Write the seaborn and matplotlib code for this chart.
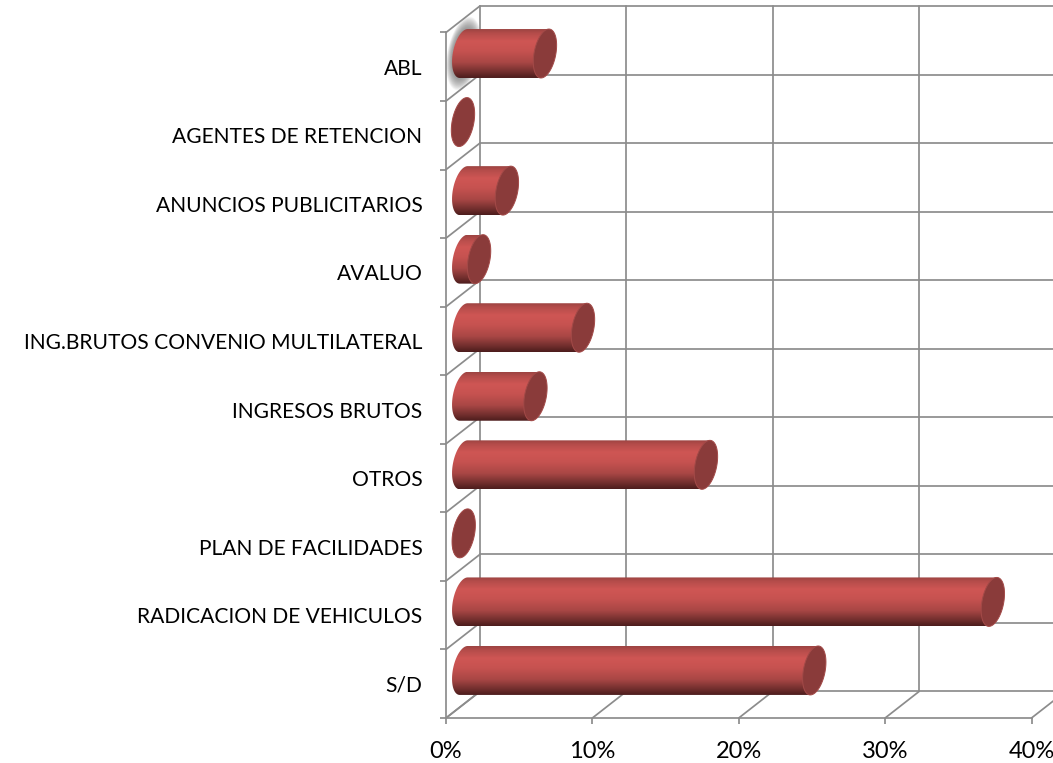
import numpy as np
import pandas as pd
import matplotlib.pyplot as plt
from matplotlib.colors import LinearSegmentedColormap
from matplotlib.patches import Polygon
import seaborn as sns

# Values
categories = ['ABL', 'AGENTES DE RETENCION', 'ANUNCIOS PUBLICITARIOS', 'AVALUO',
              'ING.BRUTOS CONVENIO MULTILATERAL', 'INGRESOS BRUTOS', 'OTROS',
              'PLAN DE FACILIDADES', 'RADICACION DE VEHICULOS', 'S/D']
values = [5.6, 0.0, 3.0, 1.1, 8.2, 4.95, 16.6, 0.05, 36.2, 24.0]
x_ticks = [0, 10, 20, 30, 40]

df = pd.DataFrame({'category': categories, 'value': values})

sns.set_style('white')
plt.rcParams['font.family'] = ['Lato', 'DejaVu Sans']

fig = plt.figure(figsize=(10.53, 7.63), dpi=100)
ax = fig.add_axes([446 / 1053, 45 / 763, 585.5 / 1053, 685.5 / 763])

sns.barplot(x='value', y='category', data=df, orient='h', width=0.715, color='#c0504d', ax=ax)

ax.set_xlim(0, 40)
ax.set_ylim(9.5, -0.5)

# 3D look: depth of the box in data units
depth_x = 2.32
depth_y = 0.387
grid_color = '#8c8c8c'
grid_lw = 1.25
edges = np.arange(-0.5, 10, 1)

# back wall, side wall and floor
for e in edges:
    ax.plot([depth_x, 45], [e - depth_y, e - depth_y], color=grid_color, lw=grid_lw, clip_on=False, zorder=1)
    ax.plot([0, depth_x], [e, e - depth_y], color=grid_color, lw=grid_lw, clip_on=False, zorder=1)
for t in x_ticks:
    ax.plot([t + depth_x, t + depth_x], [edges[0] - depth_y, edges[-1] - depth_y],
            color=grid_color, lw=grid_lw, clip_on=False, zorder=1)
    ax.plot([t, t + depth_x], [edges[-1], edges[-1] - depth_y], color=grid_color, lw=grid_lw, clip_on=False, zorder=1)

# cylinders built on the bars seaborn made
cyl_cmap = LinearSegmentedColormap.from_list('cyl', [
    (0.0, '#9c4342'), (0.08, '#b44c4a'), (0.25, '#cf5654'), (0.45, '#c65250'),
    (0.68, '#a94745'), (0.88, '#702e2d'), (1.0, '#4c1c1c')])
grad = np.linspace(0, 1, 256).reshape(-1, 1)
rx = 0.75
ry = 0.357
shear = 0.27


def ellipse_xy(cx, cy, t):
    return cx + rx * np.cos(t) - shear * np.sin(t), cy + ry * np.sin(t)


bars = list(ax.patches)
for i, bar in enumerate(bars):
    bar.set_visible(False)
    val = bar.get_width()
    cy = bar.get_y() + bar.get_height() / 2 - depth_y / 2
    x0 = depth_x / 2 + 0.05
    x1 = depth_x / 2 + val

    # soft grey glow behind the first bar
    if i == 0:
        for k in range(18):
            grow = 1.5 - k * 0.027
            gx, gy = ellipse_xy(x0, cy, np.linspace(0, 2 * np.pi, 80))
            gx = x0 + (gx - x0) * grow
            gy = cy + (gy - cy) * grow
            ax.add_patch(Polygon(np.column_stack([gx, gy]), closed=True, facecolor='#707070',
                                 edgecolor='none', alpha=0.055, clip_on=False, zorder=1.5))

    lx, ly = ellipse_xy(x0, cy, np.linspace(np.pi / 2, 3 * np.pi / 2, 50))
    rxs = [x1 + shear, x1 - shear]
    rys = [cy - ry, cy + ry]
    outline = np.column_stack([np.r_[lx, rxs], np.r_[ly, rys]])
    body = Polygon(outline, closed=True, facecolor='none', edgecolor='none', zorder=2)
    ax.add_patch(body)
    img = ax.imshow(grad, cmap=cyl_cmap, aspect='auto', interpolation='bilinear', zorder=2,
                    extent=[x0 - 2, x1 + 2, cy + ry, cy - ry])
    img.set_clip_path(body)
    # the top bar rises above the axes box
    img.set_clip_box(fig.bbox)

    cx, cyy = ellipse_xy(x1, cy, np.linspace(0, 2 * np.pi, 100))
    ax.add_patch(Polygon(np.column_stack([cx, cyy]), closed=True, facecolor='#8a3b3a',
                         edgecolor='#a34a48', lw=0.7, clip_on=False, zorder=3))

ax.set_xlim(0, 40)
ax.set_ylim(9.5, -0.5)

for side in ['top', 'right']:
    ax.spines[side].set_visible(False)
for side in ['left', 'bottom']:
    ax.spines[side].set_color(grid_color)
    ax.spines[side].set_linewidth(grid_lw)

ax.set_xticks(x_ticks)
ax.set_xticklabels([f'{t}%' for t in x_ticks])
ax.set_yticks(range(len(categories)))
ax.set_yticklabels(categories)
ax.set_yticks(edges, minor=True)
ax.tick_params(axis='y', which='major', length=0, pad=17, labelsize=15.1, labelcolor='#000000')
ax.tick_params(axis='y', which='minor', length=4.3, width=grid_lw, color=grid_color, left=True)
ax.tick_params(axis='x', length=4.3, width=grid_lw, color=grid_color, bottom=True, pad=12.5,
               labelsize=17, labelcolor='#000000')
ax.set_xlabel('')
ax.set_ylabel('')
ax.patch.set_alpha(0)

fig.savefig('out.png', dpi=100)
